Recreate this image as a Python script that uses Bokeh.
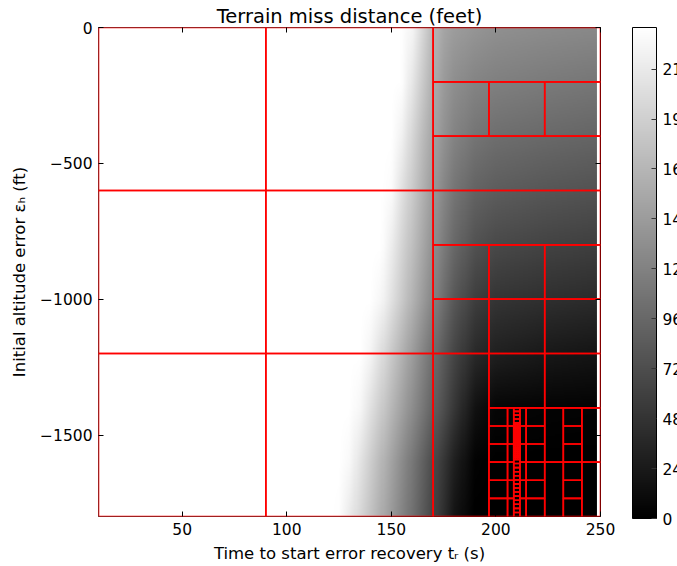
import numpy as np
from bokeh.plotting import figure
from bokeh.models import (Range1d, LinearColorMapper, ColorBar, FixedTicker, LinearAxis,
                          CustomJSTickFormatter)
from bokeh.embed import file_html
from bokeh.resources import INLINE

TITLE = "Terrain miss distance (feet)"
X_LABEL = "Time to start error recovery tᵣ (s)"
Y_LABEL = "Initial altitude error εₕ (ft)"

X_TICKS = [50, 100, 150, 200, 250]
Y_TICKS = [0, -500, -1000, -1500]
CBAR_TICKS = [0, 24, 48, 72, 96, 120, 144, 168, 192, 216]
V_MAX = 236

# miss distance (feet), rows = altitude error, cols = recovery time
T_SAMPLES = [10, 120, 125, 130, 135, 140, 145, 150, 155, 160, 165, 170, 175, 180, 190, 200, 225, 250]
H_SAMPLES = [0, -200, -400, -600, -800, -1000, -1200, -1400, -1600, -1800]
MISS = [
    [236, 236, 236, 236, 236, 236, 236, 236, 235, 226, 198, 170, 153, 145, 138, 133, 129, 126],
    [236, 236, 236, 236, 236, 236, 236, 236, 235, 212, 186, 161, 143, 132, 122, 118, 113, 109],
    [236, 236, 236, 236, 236, 236, 236, 236, 223, 197, 173, 152, 135, 122, 108, 102, 97, 93],
    [236, 236, 236, 236, 236, 236, 236, 232, 208, 186, 164, 143, 124, 109, 92, 86, 80, 76],
    [236, 236, 236, 236, 236, 236, 236, 219, 197, 176, 155, 134, 114, 97, 76, 68, 62, 58],
    [236, 236, 236, 236, 236, 236, 228, 208, 187, 165, 144, 123, 101, 82, 58, 49, 44, 40],
    [236, 236, 236, 236, 236, 226, 206, 185, 165, 144, 123, 103, 83, 65, 39, 30, 23, 19],
    [236, 236, 236, 236, 228, 208, 189, 169, 150, 130, 111, 91, 72, 52, 17, 6, 4, 3],
    [236, 236, 236, 230, 210, 190, 170, 150, 130, 110, 90, 70, 50, 30, 3, 0, 0, 0],
    [236, 236, 234, 217, 199, 180, 161, 142, 123, 104, 84, 64, 43, 20, 0, 0, 0, 0],
]
IMG_T_END = 248.3

# adaptive mesh cells (edges)
H_THIRDS = [-1800, -1733.33, -1666.67, -1600, -1533.33, -1466.67, -1400]
LADDER_H = [-1800, -1785, -1770, -1755, -1740, -1725, -1710, -1695, -1680, -1665, -1650,
            -1635, -1620, -1605, -1590, -1455, -1441, -1427, -1413, -1400]
DENSE_H = [-1590, -1582, -1575, -1567, -1560, -1552, -1545, -1537, -1530, -1522, -1515,
           -1507, -1500, -1492, -1485, -1477, -1470, -1462, -1455]
MESH_BLOCKS = [
    ([10, 90, 170], [-1800, -1200, -600, 0]),
    ([170, 250], [-200, 0]),
    ([170, 196.67, 223.33, 250], [-400, -200]),
    ([170, 250], [-800, -600, -400]),
    ([170, 196.67, 223.33, 250], [-1200, -1000, -800]),
    ([170, 196.67], [-1800, -1200]),
    ([196.67, 223.33, 250], [-1400, -1200]),
    ([196.67, 205.56], H_THIRDS),
    ([205.56, 208.52], H_THIRDS),
    ([211.48, 214.44], H_THIRDS),
    ([214.44, 223.33], H_THIRDS),
    ([223.33, 232.22], [-1800, -1600, -1400]),
    ([232.22, 241.11], H_THIRDS),
    ([241.11, 250], [-1800, -1600, -1400]),
    ([208.52, 211.48], LADDER_H),
    ([208.52, 209.51, 210.49, 211.48], DENSE_H),
]

FONT = "DejaVu Sans"

# ---- image (bilinear display resampling of the read table) ----
t_fine = np.linspace(T_SAMPLES[0], IMG_T_END, 480)
h_fine = np.linspace(H_SAMPLES[-1], H_SAMPLES[0], 360)
miss = np.array(MISS, dtype=float)[::-1]
h_asc = np.array(H_SAMPLES[::-1], dtype=float)
rows = np.array([np.interp(t_fine, T_SAMPLES, r) for r in miss])
img = np.array([np.interp(h_fine, h_asc, rows[:, j]) for j in range(len(t_fine))]).T

# ---- mesh cells ----
left, right, bottom, top = [], [], [], []
for t_edges, h_edges in MESH_BLOCKS:
    for i in range(len(t_edges) - 1):
        for j in range(len(h_edges) - 1):
            left.append(t_edges[i]); right.append(t_edges[i + 1])
            bottom.append(h_edges[j]); top.append(h_edges[j + 1])

GRAY = ["#%02x%02x%02x" % (i, i, i) for i in range(256)]
mapper = LinearColorMapper(palette=GRAY, low=0, high=V_MAX)

p = figure(width=677, height=566, x_range=Range1d(10, 250), y_range=Range1d(-1800, 0),
           output_backend="svg", toolbar_location=None, title=TITLE,
           min_border_left=98, min_border_right=77, min_border_top=27, min_border_bottom=50)
p.background_fill_color = "white"
p.border_fill_color = "white"
p.grid.visible = False
p.outline_line_color = "black"
p.outline_line_width = 1

p.title.text_font = FONT
p.title.text_font_size = "19.5px"
p.title.text_font_style = "normal"
p.title.text_color = "black"
p.title.align = "center"
p.title.standoff = 0

p.image(image=[img], x=T_SAMPLES[0], y=H_SAMPLES[-1], dw=IMG_T_END - T_SAMPLES[0],
        dh=H_SAMPLES[0] - H_SAMPLES[-1], color_mapper=mapper)
p.quad(left=left, right=right, bottom=bottom, top=top, fill_color=None,
       line_color="#ff0000", line_width=1.6)

minus_fmt = CustomJSTickFormatter(code="return tick < 0 ? '\u2212' + Math.abs(tick) : String(tick);")

p.xaxis.ticker = FixedTicker(ticks=X_TICKS)
p.yaxis.ticker = FixedTicker(ticks=Y_TICKS)
p.yaxis.formatter = minus_fmt
p.xaxis.axis_label = X_LABEL
p.yaxis.axis_label = Y_LABEL
for ax in (p.xaxis[0], p.yaxis[0]):
    ax.axis_line_color = None
    ax.major_tick_in = 5
    ax.major_tick_out = 0
    ax.major_tick_line_color = "black"
    ax.minor_tick_line_color = None
    ax.major_label_text_font = FONT
    ax.major_label_text_font_size = "15.5px"
    ax.major_label_text_color = "black"
    ax.axis_label_text_font = FONT
    ax.axis_label_text_font_size = "16.5px"
    ax.axis_label_text_font_style = "normal"
    ax.axis_label_text_color = "black"
    ax.major_label_standoff = 6
    ax.axis_label_standoff = 6
p.yaxis.axis_label_standoff = 8

blank_fmt = CustomJSTickFormatter(code="return '';")
for loc, tk in (("above", X_TICKS), ("right", Y_TICKS)):
    ax = LinearAxis(ticker=FixedTicker(ticks=tk), formatter=blank_fmt, axis_line_color=None,
                    major_tick_in=5, major_tick_out=0, minor_tick_line_color=None,
                    major_label_standoff=0, major_tick_line_color="black")
    p.add_layout(ax, loc)

cb = ColorBar(color_mapper=mapper, ticker=FixedTicker(ticks=CBAR_TICKS), width=24, height=491,
              location=(534, -2), padding=0, margin=0, label_standoff=6,
              major_tick_in=5, major_tick_out=0, major_tick_line_color="#333333",
              minor_tick_line_color=None, bar_line_color="black", border_line_color=None,
              background_fill_color=None, major_label_text_font=FONT,
              major_label_text_font_size="15.5px", major_label_text_color="black")
p.add_layout(cb, "center")

open("out.html", "w").write(file_html(p, INLINE))
